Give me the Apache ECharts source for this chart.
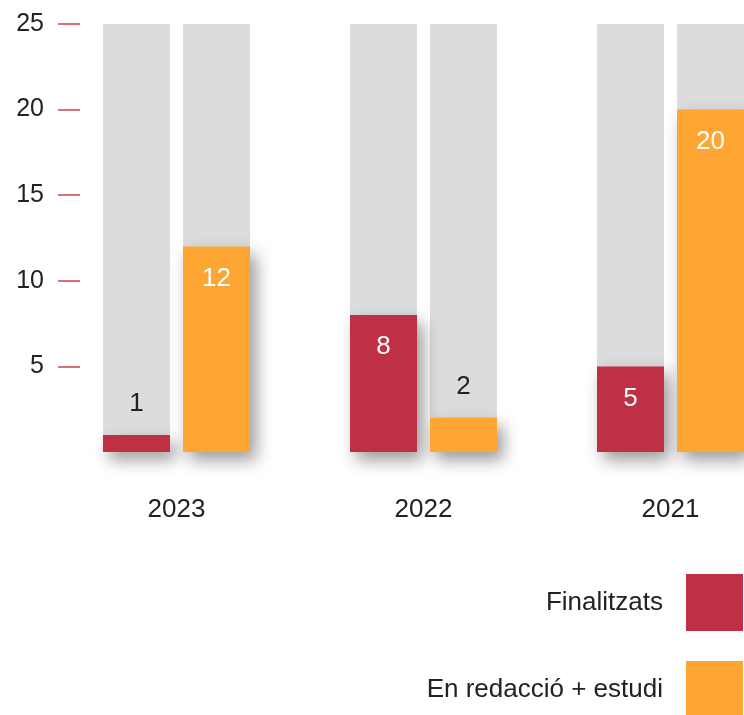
<!DOCTYPE html>
<html>
<head>
<meta charset="utf-8">
<script src="https://cdn.jsdelivr.net/npm/echarts@6/dist/echarts.min.js"></script>
<style>
  html, body { margin: 0; padding: 0; background: #fff; overflow: hidden; }
  /* wider than the window: the last group runs off the right edge in the original */
  #chart { width: 794px; height: 715px; }
</style>
</head>
<body>
<div id="chart"></div>
<script>
const years = ['2023', '2022', '2021']
const finalitzats = [1, 8, 5]
const enRedaccio = [12, 2, 20]
const yTicks = [5, 10, 15, 20, 25]

const FONT = 'Liberation Sans'
const RED = '#bf3045'
const ORANGE = '#fea634'

// small values get the label above the bar, the rest inside in white
const withLabels = values => values.map(v => ({
  value: v,
  label: v < 3
    ? { position: 'top', color: '#222', distance: 18 }
    : { position: 'insideTop', color: '#fff', distance: 19 }
}))

const barBase = {
  type: 'bar',
  barWidth: 67,
  barGap: '19.4%',
  showBackground: true,
  backgroundStyle: { color: '#dbdcde' },
  label: { show: true, fontFamily: FONT, fontSize: 26 },
}

const shadow = {
  shadowColor: 'rgba(0,0,0,0.4)',
  shadowBlur: 16,
  shadowOffsetX: 6,
  shadowOffsetY: 8
}

// one legend per item so each swatch sits on its own row
const legendRow = (name, top) => ({
  right: 51,
  top: top,
  padding: 0,
  align: 'right',
  itemWidth: 57,
  itemHeight: 57,
  icon: 'rect',
  textStyle: { fontFamily: FONT, fontSize: 26, color: '#222', padding: [0, 18, 0, 0] },
  data: [name]
})

const chart = echarts.init(document.getElementById('chart'))
chart.setOption({
  animation: false,
  grid: { left: 53, right: 0, top: 24, height: 428 },
  xAxis: {
    type: 'category',
    data: years,
    axisLine: { show: false },
    axisTick: { show: false },
    axisLabel: { margin: 45, fontFamily: FONT, fontSize: 26, color: '#222' }
  },
  yAxis: {
    type: 'value',
    min: 0,
    max: 25,
    interval: 5,
    offset: -27,
    splitLine: { show: false },
    axisLine: { show: false },
    axisTick: {
      show: true,
      length: 22,
      customValues: yTicks,
      lineStyle: { color: '#d9707e', width: 2 }
    },
    axisLabel: {
      margin: 36,
      customValues: yTicks,
      fontFamily: FONT,
      fontSize: 25,
      color: '#222'
    }
  },
  legend: [
    legendRow('Finalitzats', 574),
    legendRow('En redacció + estudi', 661)
  ],
  series: [
    {
      ...barBase,
      name: 'Finalitzats',
      data: withLabels(finalitzats),
      itemStyle: { color: RED, ...shadow }
    },
    {
      ...barBase,
      name: 'En redacció + estudi',
      data: withLabels(enRedaccio),
      itemStyle: { color: ORANGE, ...shadow }
    }
  ]
})
</script>
</body>
</html>
